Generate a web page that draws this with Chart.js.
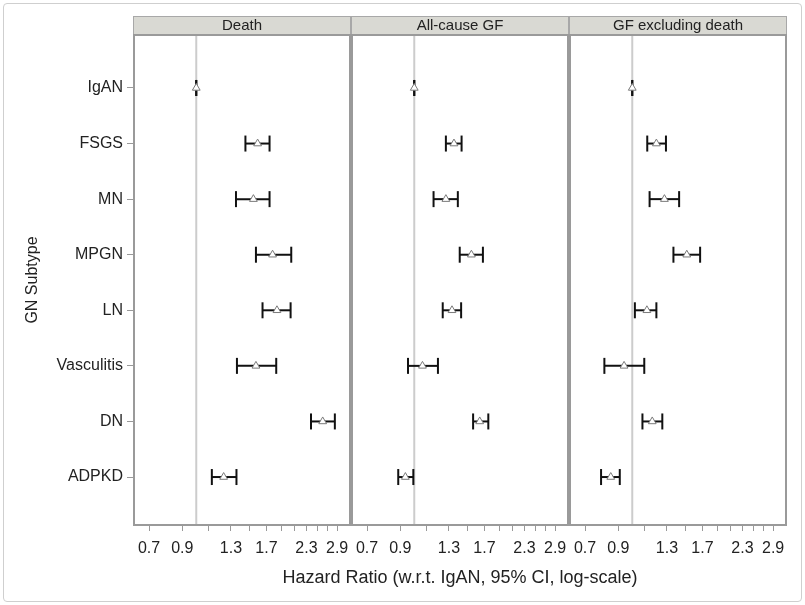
<!DOCTYPE html>
<html>
<head>
<meta charset="utf-8">
<script src="https://cdn.jsdelivr.net/npm/chart.js@4"></script>
<style>
  body { margin: 0; background: #fff; }
  #wrap { position: relative; width: 805px; height: 605px; }
  #frame { position: absolute; left: 3px; top: 3px; width: 797px; height: 597px; border: 1px solid #cfcfcf; border-radius: 4px; }
  canvas { position: absolute; left: 0; top: 0; }
</style>
</head>
<body>
<div id="wrap">
  <div id="frame"></div>
  <canvas id="c-death" width="805" height="605"></canvas>
  <canvas id="c-gf" width="805" height="605"></canvas>
  <canvas id="c-gfx" width="805" height="605"></canvas>
</div>
<script>
const subtypes = ['IgAN', 'FSGS', 'MN', 'MPGN', 'LN', 'Vasculitis', 'DN', 'ADPKD'];
const panelTitles = ['Death', 'All-cause GF', 'GF excluding death'];
const xTitle = 'Hazard Ratio (w.r.t. IgAN, 95% CI, log-scale)';

// hazard ratio, lower / upper 95% CI
const deathHR = [1, 1.59, 1.54, 1.78, 1.84, 1.57, 2.60, 1.23];
const deathLo = [1, 1.45, 1.35, 1.57, 1.65, 1.36, 2.38, 1.125];
const deathHi = [1, 1.74, 1.74, 2.05, 2.04, 1.83, 2.85, 1.355];

const gfHR = [1, 1.35, 1.27, 1.54, 1.33, 1.064, 1.64, 0.935];
const gfLo = [1, 1.27, 1.157, 1.41, 1.24, 0.954, 1.56, 0.886];
const gfHi = [1, 1.43, 1.39, 1.68, 1.425, 1.196, 1.75, 0.993];

const exHR = [1, 1.20, 1.275, 1.51, 1.117, 0.94, 1.163, 0.85];
const exLo = [1, 1.12, 1.14, 1.365, 1.02, 0.81, 1.08, 0.79];
const exHi = [1, 1.29, 1.425, 1.67, 1.20, 1.095, 1.255, 0.91];

const xTicks = [0.7, 0.9, 1.1, 1.3, 1.5, 1.7, 1.9, 2.1, 2.3, 2.5, 2.7, 2.9];
const xLabels = [0.7, 0.9, 1.3, 1.7, 2.3, 2.9];
const refValue = 1;

const X_MIN = 0.62, X_MAX = 3.22;
const Y_MIN = 0.047, Y_MAX = 8.863;

const FONT = 'Arial, "Liberation Sans", sans-serif';
Chart.defaults.font.family = FONT;
Chart.defaults.color = '#222';

// header strip, panel frame, shared x title
const panelPlugin = {
  id: 'panel',
  afterDraw(chart, args, opts) {
    const { ctx, chartArea: a } = chart;
    ctx.save();
    ctx.fillStyle = '#d9d9d3';
    ctx.fillRect(a.left, 16, a.right - a.left, a.top - 16);
    ctx.strokeStyle = '#a8a8a8';
    ctx.lineWidth = 1;
    ctx.strokeRect(a.left + 0.5, 16.5, a.right - a.left - 1, a.top - 16);
    ctx.fillStyle = '#222';
    ctx.font = '15px ' + FONT;
    ctx.textAlign = 'center';
    ctx.textBaseline = 'middle';
    ctx.fillText(opts.title, (a.left + a.right) / 2, (16 + a.top) / 2);
    ctx.strokeStyle = '#9a9a9a';
    ctx.lineWidth = 2;
    ctx.strokeRect(a.left + 1, a.top, a.right - a.left - 2, a.bottom - a.top);
    if (opts.axisTitle) {
      ctx.fillStyle = '#222';
      ctx.font = '18px ' + FONT;
      ctx.fillText(opts.axisTitle, (a.left + a.right) / 2, 578);
    }
    ctx.restore();
  }
};

function makePanel(id, title, hr, lo, hi, left, right, first, middle) {
  const whisker = [];
  subtypes.forEach((s, i) => {
    whisker.push({ x: lo[i], y: i + 1 });
    whisker.push({ x: hi[i], y: i + 1 });
  });
  const points = subtypes.map((s, i) => ({ x: hr[i], y: i + 1 }));

  return new Chart(document.getElementById(id), {
    type: 'scatter',
    data: {
      datasets: [
        {
          data: points,
          pointStyle: 'triangle',
          pointRadius: 4.5,
          pointBorderColor: '#7a7a7a',
          pointBackgroundColor: '#fff',
          pointBorderWidth: 1,
          order: 0
        },
        {
          data: whisker,
          showLine: true,
          borderWidth: 2,
          segment: {
            borderColor: c => c.p0.parsed.y === c.p1.parsed.y ? '#111' : 'rgba(0,0,0,0)'
          },
          pointStyle: 'line',
          pointRotation: 90,
          pointRadius: 8,
          pointBorderWidth: 2,
          pointBorderColor: '#111',
          order: 1
        },
        {
          data: [{ x: refValue, y: Y_MIN }, { x: refValue, y: Y_MAX }],
          showLine: true,
          borderColor: '#cccccc',
          borderWidth: 2,
          pointRadius: 0,
          order: 2
        }
      ]
    },
    options: {
      responsive: false,
      animation: false,
      events: [],
      layout: { padding: { left: first ? 0 : left, right: 805 - right, top: 35, bottom: 0 } },
      plugins: {
        legend: { display: false },
        tooltip: { enabled: false },
        panel: { title, axisTitle: middle ? xTitle : null }
      },
      scales: {
        x: {
          type: 'logarithmic',
          bounds: 'data',
          min: X_MIN,
          max: X_MAX,
          border: { display: false },
          grid: { drawOnChartArea: false, tickLength: 6, color: '#999' },
          afterBuildTicks: s => { s.ticks = xTicks.map(v => ({ value: v })); },
          afterFit: s => { s.height = 80; },
          ticks: {
            autoSkip: false,
            maxRotation: 0,
            padding: 8,
            font: { size: 16 },
            callback: v => xLabels.some(t => Math.abs(t - v) < 1e-6) ? v.toFixed(1) : ''
          }
        },
        y: {
          type: 'linear',
          reverse: true,
          min: Y_MIN,
          max: Y_MAX,
          display: first,
          border: { display: false },
          grid: { drawOnChartArea: false, tickLength: 6, color: '#999' },
          afterBuildTicks: s => { s.ticks = subtypes.map((c, i) => ({ value: i + 1 })); },
          afterFit: s => { if (first) s.width = left; },
          ticks: {
            padding: 4,
            font: { size: 16 },
            callback: v => subtypes[v - 1]
          },
          title: {
            display: first,
            text: 'GN Subtype',
            font: { size: 16 },
            padding: { top: 23, bottom: 0 }
          }
        }
      }
    },
    plugins: [panelPlugin]
  });
}

makePanel('c-death', panelTitles[0], deathHR, deathLo, deathHi, 133, 351, true, false);
makePanel('c-gf', panelTitles[1], gfHR, gfLo, gfHi, 351, 569, false, true);
makePanel('c-gfx', panelTitles[2], exHR, exLo, exHi, 569, 787, false, false);
</script>
</body>
</html>
